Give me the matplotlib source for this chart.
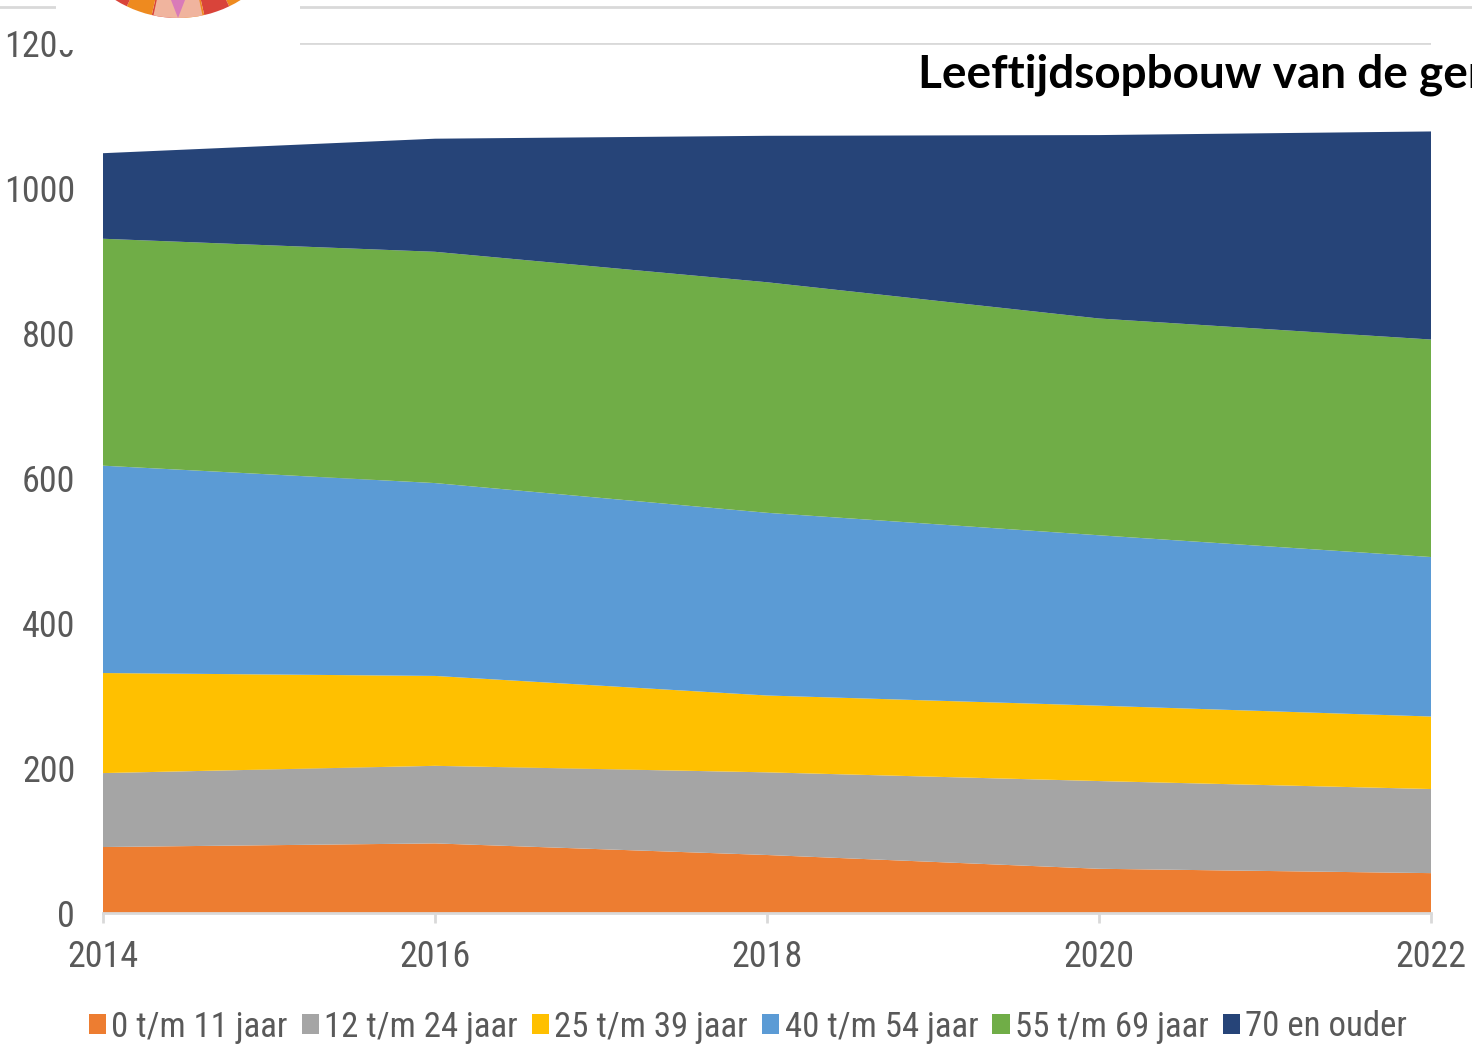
import matplotlib
matplotlib.use("Agg")
import matplotlib.pyplot as plt
from matplotlib.patches import Rectangle, Wedge, Polygon
from matplotlib.lines import Line2D
import numpy as np

years = [2014, 2016, 2018, 2020, 2022]
series_names = ["0 t/m 11 jaar", "12 t/m 24 jaar", "25 t/m 39 jaar",
                "40 t/m 54 jaar", "55 t/m 69 jaar", "70 en ouder"]
age_0_11 = [91, 96, 80, 61, 55]
age_12_24 = [102, 107, 114, 121, 116]
age_25_39 = [138, 124, 106, 104, 100]
age_40_54 = [286, 266, 252, 235, 220]
age_55_69 = [313, 319, 318, 299, 300]
age_70_plus = [118, 156, 202, 253, 287]
colors = ["#ED7D31", "#A5A5A5", "#FFC000", "#5B9BD5", "#70AD47", "#264478"]
y_ticks = [0, 200, 400, 600, 800, 1000, 1200]
x_ticks = [2014, 2016, 2018, 2020, 2022]
title = "Leeftijdsopbouw van de gemeente"

FONT = ["Roboto Condensed", "Liberation Sans Narrow", "Liberation Sans", "DejaVu Sans"]
plt.rcParams['font.family'] = FONT

W, H = 1472, 1046
fig = plt.figure(figsize=(W / 100, H / 100), dpi=100)
fig.patch.set_facecolor("white")

ax = fig.add_axes([103 / W, 1 - 913 / H, (1431 - 103) / W, (913 - 43) / H])
ax.set_xlim(2014, 2022)
ax.set_ylim(0, 1200)
ax.set_yticks(y_ticks)
ax.set_xticks(x_ticks)
ax.yaxis.grid(True, color="#D9D9D9", linewidth=2)
ax.set_axisbelow(True)
ax.stackplot(years, age_0_11, age_12_24, age_25_39, age_40_54, age_55_69, age_70_plus,
             colors=colors, labels=series_names, linewidth=0, zorder=2)
for s in ["left", "right", "top"]:
    ax.spines[s].set_visible(False)
ax.spines["bottom"].set_color("#D9D9D9")
ax.spines["bottom"].set_linewidth(2)
ax.spines["bottom"].set_zorder(3)
ax.tick_params(axis="y", length=0, pad=20, labelsize=26, labelcolor="#595959")
ax.tick_params(axis="x", length=7, width=2, color="#D9D9D9", pad=12, labelsize=26,
               labelcolor="#595959")

# legend
handles = [Rectangle((0, 0), 1, 1, facecolor=c, edgecolor="none") for c in colors]
leg = fig.legend(handles, series_names, loc="center", bbox_to_anchor=(748 / W, 1 - 1027 / H),
                 ncol=6, frameon=False, fontsize=25, handlelength=0.5, handleheight=0.5,
                 handletextpad=0.15, columnspacing=0.4, borderpad=0)
for t in leg.get_texts():
    t.set_color("#595959")

# top decorations: line, white box, logo
fig.add_artist(Line2D([0, 1], [1 - 7 / H, 1 - 7 / H], color="#D9D9D9", linewidth=2,
                      transform=fig.transFigure))
fig.add_artist(Rectangle((56 / W, 1 - 50 / H), (300 - 56) / W, 50 / H,
                         transform=fig.transFigure, facecolor="white", edgecolor="none",
                         zorder=5))

# logo: partially visible sunburst circle (pixel coords)
cx, cy, r = 178, -100, 118
logo_ax = fig.add_axes([0, 0, 1, 1], facecolor="none", zorder=10)
logo_ax.set_xlim(0, W)
logo_ax.set_ylim(H, 0)
logo_ax.axis("off")
n = 28
for i in range(n):
    a0 = 360 / n * i
    col = "#EE8A1F" if i % 2 == 0 else "#D9443A"
    logo_ax.add_patch(Wedge((cx, cy), r, a0, a0 + 360 / n, facecolor=col, edgecolor="none"))
logo_ax.add_patch(Wedge((cx, cy), r, 90 - 12, 90 + 12, facecolor="#F0B49E", edgecolor="none"))
logo_ax.add_patch(Polygon([[cx - 7, 0], [cx + 7, 0], [cx, cy + r]], closed=True,
                          facecolor="#D97BB8", edgecolor="none"))

fig.text(918 / W, 1 - 87 / H, title, fontsize=33, fontweight="bold", color="black",
         family=["Lato", "Open Sans", "DejaVu Sans"], ha="left", va="baseline")

fig.savefig("out.png", dpi=100, facecolor="white")
